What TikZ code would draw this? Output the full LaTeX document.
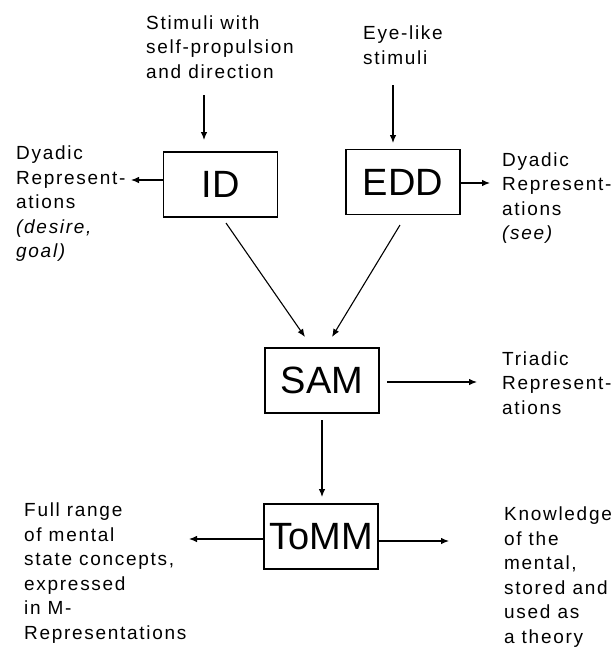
\documentclass[tikz,border=0pt]{standalone}
\usepackage{fontspec}
\setmainfont{Liberation Sans}
\newfontfamily\lblfont[LetterSpace=9]{Liberation Sans}
\usetikzlibrary{arrows.meta,calc}

\begin{document}
\begin{tikzpicture}[x=1pt,y=-1pt,
  module/.style={draw, line width=1.3pt, minimum width=114pt, minimum height=65pt,
    inner sep=0pt, font=\fontsize{38}{40}\selectfont},
  lbl/.style={align=left, anchor=west, inner sep=0pt,
    font=\lblfont\fontsize{19}{24.5}\selectfont},
  link/.style={line width=1.1pt, -{Latex[length=8pt,width=6.5pt]}},
]
\useasboundingbox (0,0) rectangle (613,648);

% modules
\node[module] (id)   at (220.5,184.5) {ID};
\node[module] (edd)  at (403,182)     {EDD};
\node[module] (sam)  at (322,380.5)   {SAM};
\node[module] (tomm) at (321,536.5)   {ToMM};

% inputs and outputs
\node[lbl] (stim) at (146,47)  {Stimuli with\\self-propulsion\\and direction};
\node[lbl] (eye)  at (363,45)  {Eye-like\\stimuli};
\node[lbl] (dyl)  at (16,204)  {Dyadic\\Represent-\\ations\\\textit{(desire,}\\\textit{goal)}};
\node[lbl] (dyr)  at (502,198) {Dyadic\\Represent-\\ations\\\textit{(see)}};
\node[lbl] (tri)  at (502,383) {Triadic\\Represent-\\ations};
\node[lbl] (full) at (24,573)  {Full range\\of mental\\state concepts,\\expressed\\in M-\\Representations};
\node[lbl] (know) at (504,577) {Knowledge\\of the\\mental,\\stored and\\used as\\a theory};

% connector end points
\coordinate (stimtail) at (204,95);
\coordinate (idhead)   at (204,140);
\coordinate (eyetail)  at (393,85);
\coordinate (eddhead)  at (393,143);
\coordinate (dylhead)  at (131,180);
\coordinate (dyrhead)  at (490,183);
\coordinate (idfoot)   at (226,223);
\coordinate (samleft)  at (305,337);
\coordinate (eddfoot)  at (400,225);
\coordinate (samright) at (332,337);
\coordinate (samtail)  at (387,382);
\coordinate (trihead)  at (477,382);
\coordinate (samfoot)  at (322,420);
\coordinate (tommhead) at (322,497);
\coordinate (fullhead) at (189,539);
\coordinate (knowhead) at (449,541);

% connectors
\draw[link] (stimtail) -- (idhead);
\draw[link] (eyetail) -- (eddhead);
\draw[link] (id.west |- dylhead) -- (dylhead);
\draw[link] (edd.east |- dyrhead) -- (dyrhead);
\draw[link] (idfoot) -- (samleft);
\draw[link] (eddfoot) -- (samright);
\draw[link] (samtail) -- (trihead);
\draw[link] (samfoot) -- (tommhead);
\draw[link] (tomm.west |- fullhead) -- (fullhead);
\draw[link] (tomm.east |- knowhead) -- (knowhead);
\end{tikzpicture}
\end{document}
